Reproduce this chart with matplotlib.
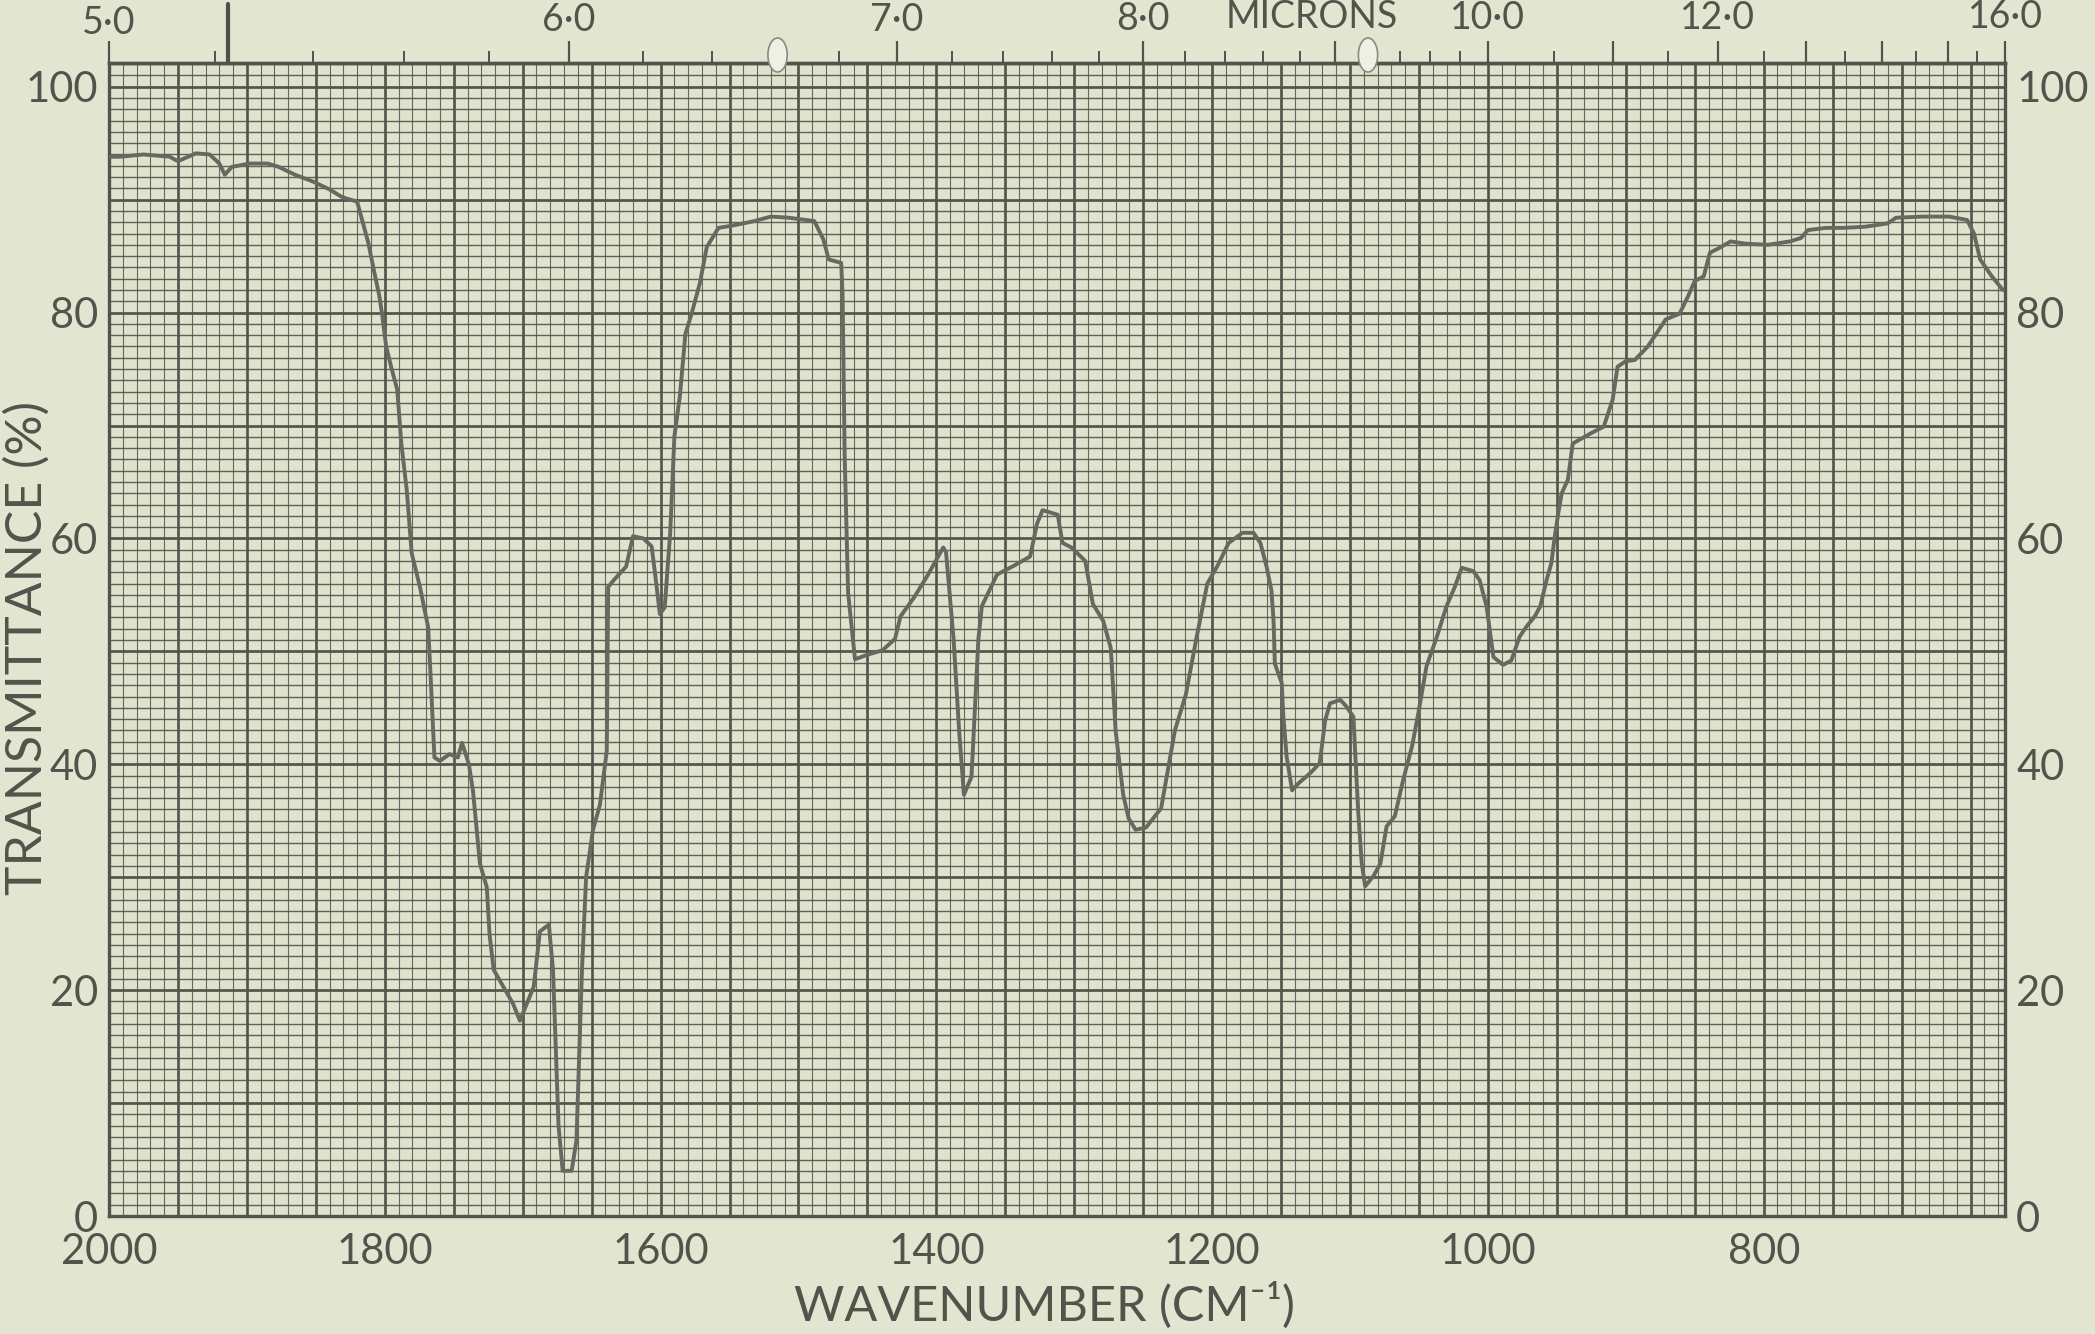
import numpy as np
import matplotlib
matplotlib.use("Agg")
import matplotlib.pyplot as plt
from matplotlib.ticker import FixedLocator, NullFormatter
from matplotlib.transforms import blended_transform_factory
from matplotlib.patches import Ellipse

# ---------------- data ----------------
wavenumber = [2000, 1992, 1975, 1956, 1950, 1937, 1927, 1920, 1916, 1911, 1898, 1885,
              1877, 1865, 1852, 1840, 1832, 1828, 1822, 1820, 1816, 1812, 1808, 1804,
              1802, 1799, 1795, 1791, 1788, 1784, 1780.5, 1774.5, 1768.5, 1767, 1764,
              1760, 1753, 1747, 1744, 1739, 1736, 1731, 1726, 1724, 1721, 1714, 1707,
              1702, 1697, 1692, 1687.5, 1681, 1678, 1674, 1671, 1664.5, 1661, 1657,
              1654, 1649, 1644, 1639, 1638, 1634, 1625, 1620, 1612.5, 1606.5, 1604,
              1600.5, 1597, 1593, 1590, 1586, 1582, 1577.5, 1571.5, 1566.5, 1558, 1548,
              1532, 1520, 1507, 1488.5, 1482, 1478, 1469, 1468, 1466.5, 1464, 1459,
              1450, 1439, 1430, 1426, 1416, 1406, 1395, 1393, 1387.5, 1383.5, 1380,
              1374.5, 1369.5, 1367, 1356, 1343.5, 1332, 1327, 1323, 1312, 1308.5, 1302,
              1292, 1286.5, 1279, 1273.5, 1270, 1264.5, 1260.5, 1255.5, 1248, 1237,
              1227, 1219, 1211.5, 1203.5, 1196, 1188, 1178, 1170, 1165, 1160.5, 1157,
              1155.5, 1154.5, 1149.5, 1148.5, 1146, 1142, 1137.5, 1129, 1122, 1118,
              1114.5, 1107, 1102.5, 1097.5, 1096.5, 1094, 1091.5, 1089, 1083, 1078,
              1073.5, 1067.5, 1061.5, 1055, 1050.5, 1044.5, 1037, 1030, 1024, 1019,
              1010.5, 1006, 1001, 996, 989, 983, 977, 972, 966, 962, 957.5, 954, 951.5,
              949, 946.5, 942, 938.5, 925.5, 916, 909.5, 906, 900, 893.5, 884, 871, 861,
              855, 850, 843.5, 839, 832.5, 824, 813, 797, 781, 773, 768, 755, 742.5,
              726.5, 710, 704, 684.5, 665.5, 652.5, 647.5, 643, 634.5, 626.5]
transmittance = [93.8, 93.8, 94.0, 93.8, 93.4, 94.1, 94.0, 93.2, 92.2, 92.9, 93.2, 93.2,
                 92.9, 92.2, 91.6, 90.9, 90.3, 90.1, 89.9, 89.8, 88.0, 86.2, 83.8, 81.5,
                 79.9, 77.0, 75.0, 73.2, 68.4, 64.2, 58.7, 55.7, 52.1, 48.4, 40.6,
                 40.3, 40.9, 40.6, 41.9, 40.0, 37.6, 31.2, 29.1, 24.9, 21.8, 20.3, 18.8,
                 17.3, 18.8, 20.3, 25.2, 25.8, 21.8, 8.0, 4.0, 4.0, 6.7, 21.8,
                 30.0, 34.2, 36.4, 41.2, 55.7, 56.3, 57.5, 60.2, 60.0, 59.3, 56.9,
                 53.3, 53.9, 60.5, 69.0, 72.6, 78.1, 79.9, 82.6, 85.8, 87.5, 87.7,
                 88.1, 88.5, 88.4, 88.1, 86.5, 84.7, 84.4, 81.6, 67.4, 55.2, 49.3,
                 49.7, 50.1, 51.1, 53.1, 54.8, 56.8, 59.2, 58.8, 51.1, 43.0, 37.3,
                 38.9, 51.1, 54.0, 56.8, 57.6, 58.4, 61.3, 62.5, 62.1, 59.6, 59.2,
                 58.0, 54.2, 52.7, 50.3, 43.0, 37.3, 35.2, 34.2, 34.4, 36.1,
                 43.0, 46.2, 51.1, 56.0, 57.6, 59.6, 60.5, 60.5, 59.6, 57.5, 55.4,
                 52.8, 48.9, 47.2, 44.5, 40.7, 37.7, 38.3, 39.2, 40.1, 43.9,
                 45.4, 45.7, 45.1, 44.2, 41.6, 35.7, 31.2, 29.2, 30.1, 31.2,
                 34.5, 35.4, 38.6, 41.6, 44.5, 48.7, 51.3, 54.0, 55.7, 57.4,
                 57.1, 56.3, 54.0, 49.5, 48.8, 49.2, 51.3, 52.2, 53.1, 54.0, 56.3, 57.8, 60.2,
                 62.2, 64.0, 65.2, 68.4, 69.3, 69.9, 72.3, 75.2, 75.7, 75.8, 77.0, 79.4, 79.9,
                 81.4, 82.8, 83.2, 85.3, 85.7, 86.3, 86.1, 86.0, 86.3, 86.6, 87.3, 87.5, 87.5,
                 87.6, 87.9, 88.4, 88.5, 88.5, 88.2, 87.0, 84.7, 83.2, 82.0]

x_tick_labels = [2000, 1800, 1600, 1400, 1200, 1000, 800]
y_tick_labels = [0, 20, 40, 60, 80, 100]
micron_labels = ["5·0", "6·0", "7·0", "8·0", "10·0", "12·0", "16·0"]
micron_label_values = [5.0, 6.0, 7.0, 8.0, 10.0, 12.0, 16.0]
micron_major = [5, 6, 7, 8, 9, 10, 11, 12, 13, 14, 15, 16]
micron_minor = [5.2, 5.4, 5.6, 5.8, 6.2, 6.4, 6.6, 6.8, 7.2, 7.4, 7.6, 7.8,
                8.2, 8.4, 8.6, 8.8, 9.2, 9.4, 9.6, 9.8, 10.5, 11.5, 12.5, 13.5,
                14.5, 15.5]
pen_mark_wavenumber = 1914
paper_holes_micron = [6.6, 9.2]

# ---------------- style ----------------
PAPER = "#e2e6d1"
PLOT_BG = "#dde3cc"
GRID = "#52534a"
TRACE = "#67685f"
TEXT = "#52534b"
FONT = ["Lato", "DejaVu Sans"]
plt.rcParams["font.family"] = FONT

W, H = 2095, 1334
fig = plt.figure(figsize=(W / 100, H / 100), dpi=100, facecolor=PAPER)
left_px, right_px, top_px, bottom_px = 109, 2005, 63, 1216
ax = fig.add_axes([left_px / W, 1 - bottom_px / H, (right_px - left_px) / W,
                   (bottom_px - top_px) / H])
ax.set_facecolor(PLOT_BG)

XMIN, XMAX = 2000, 625
YTOP = 102.1
ax.set_xlim(XMIN, XMAX)
ax.set_ylim(0, YTOP)

# chart-paper grid
minor_x = np.arange(630, 2000, 10)
major_x = np.arange(650, 2000, 50)
minor_y = np.arange(1, 103, 1)
major_y = np.arange(10, 101, 10)
ax.vlines(minor_x, 0, YTOP, colors=GRID, linewidth=0.8, alpha=0.85, zorder=1)
ax.hlines(minor_y, XMAX, XMIN, colors=GRID, linewidth=1.0, alpha=0.9, zorder=1)
ax.vlines(major_x, 0, YTOP, colors=GRID, linewidth=1.9, zorder=2)
ax.hlines(major_y, XMAX, XMIN, colors=GRID, linewidth=1.9, zorder=2)

# spectrum trace
ax.plot(wavenumber, transmittance, color=TRACE, linewidth=2.8,
        solid_joinstyle="round", solid_capstyle="round", zorder=5)

for s in ax.spines.values():
    s.set_color(GRID)
    s.set_linewidth(2.4)

ax.set_xticks(x_tick_labels)
ax.set_xticklabels([str(v) for v in x_tick_labels])
ax.set_yticks(y_tick_labels)
ax.set_yticklabels([str(v) for v in y_tick_labels])
ax.tick_params(axis="x", length=0, pad=12, labelsize=30, labelcolor=TEXT)
ax.tick_params(axis="y", length=0, pad=8, labelsize=30, labelcolor=TEXT,
               labelleft=True, labelright=True)

# micron scale on top
def wn_to_um(x):
    x = np.asarray(x, dtype=float)
    return np.divide(1e4, x, out=np.full_like(x, np.inf), where=x != 0)

sec = ax.secondary_xaxis("top", functions=(wn_to_um, wn_to_um))
sec.xaxis.set_major_locator(FixedLocator(micron_major))
sec.xaxis.set_minor_locator(FixedLocator(micron_minor))
sec.xaxis.set_major_formatter(NullFormatter())
sec.xaxis.set_minor_formatter(NullFormatter())
sec.tick_params(which="major", direction="out", length=16, width=1.6, color=GRID)
sec.tick_params(which="minor", direction="out", length=8.5, width=1.4, color=GRID)
sec.spines["top"].set_color(GRID)
sec.spines["top"].set_linewidth(2.4)

# top labels (baselines vary slightly like the printed paper)
trans = blended_transform_factory(ax.transData, fig.transFigure)
label_baselines = [34, 31, 31, 30, 29, 29, 28]
for lab, um, base in zip(micron_labels, micron_label_values, label_baselines):
    ax.text(1e4 / um, 1 - base / H, lab, transform=trans, ha="center",
            va="baseline", fontsize=27, color=TEXT, clip_on=False)
ax.text(1128, 1 - 28 / H, "MICRONS", transform=trans, ha="center",
        va="baseline", fontsize=27, color=TEXT, clip_on=False)

# pen mark at the top
ax.plot([pen_mark_wavenumber, pen_mark_wavenumber], [1 - 4 / H, 1 - 62 / H],
        transform=trans, color="#4f5048", linewidth=3.0, clip_on=False,
        solid_capstyle="round")

# punched holes in the paper near the top edge
for um in paper_holes_micron:
    ax.add_patch(Ellipse((1e4 / um, 1 - 55 / H), width=14, height=34 / H,
                         transform=trans, facecolor="#eef0e6", edgecolor="#8a8a80",
                         linewidth=1.2, clip_on=False, zorder=6))

# axis titles
fig.text(1045 / W, 1 - 1305 / H, "WAVENUMBER (CM⁻¹)", ha="center", va="center",
         fontsize=35, color=TEXT, family=FONT)
fig.text(27 / W, 1 - 648 / H, "TRANSMITTANCE (%)", ha="center", va="center",
         rotation=90, fontsize=36, color=TEXT, family=FONT)

fig.savefig("out.png", dpi=100, facecolor=PAPER)
